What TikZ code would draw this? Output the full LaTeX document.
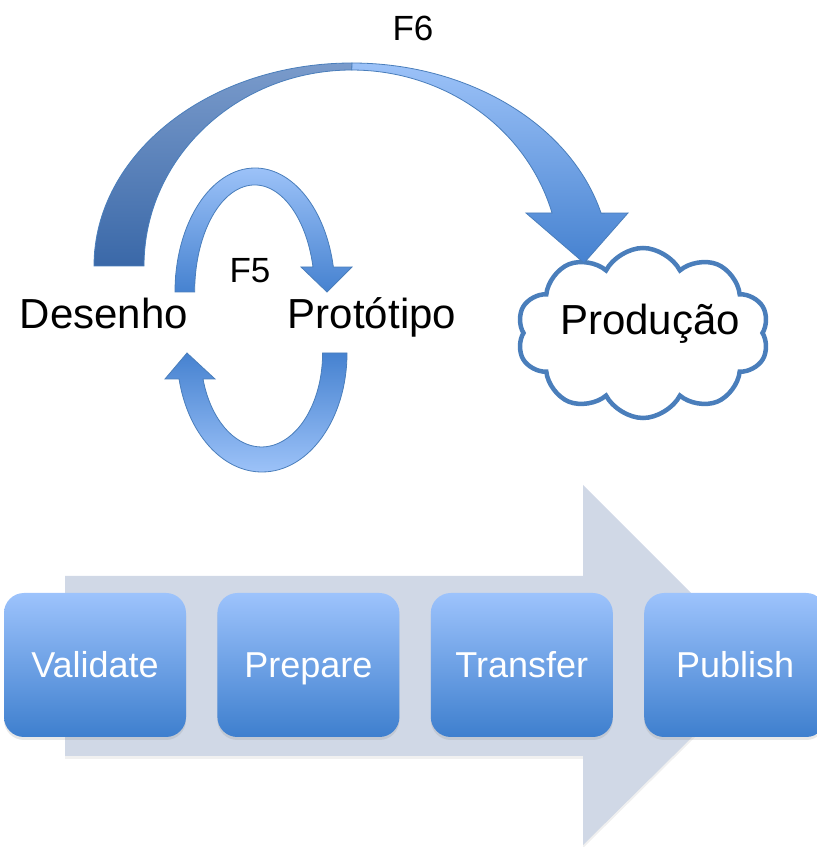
\documentclass[tikz,border=0pt]{standalone}
\usepackage{fontspec}
\setmainfont{Liberation Sans}
\usetikzlibrary{positioning,shapes.symbols,shadows}

\definecolor{bandgray}{HTML}{D0D8E6}
\definecolor{boxtop}{HTML}{9DC3FC}
\definecolor{boxbot}{HTML}{3E7FCE}
\definecolor{arclight}{HTML}{9CC2F8}
\definecolor{arcmid}{HTML}{4682D0}
\definecolor{arcdarktop}{HTML}{7A9BCB}
\definecolor{arcdarkbot}{HTML}{3A68A8}
\definecolor{edgeblue}{HTML}{4A7EBB}

\begin{document}
\begin{tikzpicture}[x=1pt,y=1pt,
  stepbox/.style={rectangle,rounded corners=20pt,top color=boxtop,bottom color=boxbot,minimum width=182pt,minimum height=144pt,text=white,text height=26pt,text depth=0pt,font=\fontsize{36}{40}\selectfont,drop shadow={shadow xshift=0pt,shadow yshift=-3pt,opacity=.18}},
  blockarrow/.style={draw=edgeblue,line width=0.8pt,line join=miter},
  lab/.style={font=\fontsize{42}{48}\selectfont,anchor=base,inner sep=0pt},
  flab/.style={font=\fontsize{35}{40}\selectfont,anchor=base,inner sep=0pt},
  cloudnode/.style={cloud,cloud puffs=10,cloud puff arc=125,aspect=1.46,draw=edgeblue,line width=4.5pt,fill=white,minimum width=252pt,minimum height=170pt},
]

\useasboundingbox (0,0) rectangle (817,847);
\clip (0,0) rectangle (817,847);

% === PROCESS BAND: wide grey arrow behind the steps ===
\fill[bandgray,drop shadow={shadow xshift=0pt,shadow yshift=-3pt,opacity=.12}]
  (65,91) -- (65,271) -- (583,271) -- (583,362) -- (764,181) -- (583,2) -- (583,91) -- cycle;

\node[stepbox] (validate) at (95,182) {Validate};
\node[stepbox,right=31pt of validate] (prepare)  {Prepare};
\node[stepbox,right=31pt of prepare]  (transfer) {Transfer};
\node[stepbox,right=31pt of transfer] (publish)  {Publish};

% === TOP: design / prototype / production ===
\node[cloudnode] (prod) at (643,514) {};
\node[lab] (prodtxt) at (650,512) {Produção};

\node[lab] (desenho) at (104,518) {Desenho};
\node[lab] (proto)   at (372,518) {Protótipo};

% F6: big arc from Desenho to Producao (dark left half, light right half with head)
\path[blockarrow,top color=arcdarktop,bottom color=arcdarkbot]
  (94,581) arc[start angle=180,end angle=90,x radius=258pt,y radius=203pt]
  -- (352,777) arc[start angle=90,end angle=180,x radius=208pt,y radius=196pt] -- cycle;
\path[blockarrow,top color=arclight,bottom color=arcmid]
  (352,784) arc[start angle=90,end angle=15.1,x radius=258pt,y radius=203pt]
  -- (628,634) -- (584,584) -- (526,634) -- (552,634)
  arc[start angle=15.7,end angle=90,x radius=208pt,y radius=196pt] -- cycle;
\node[flab] (f6) at (413,806) {F6};

% F5: loop Desenho -> Prototipo (upper) and back (lower)
\path[blockarrow,top color=arclight,bottom color=arcmid]
  (175,555) arc[start angle=180,end angle=11.6,x radius=80pt,y radius=124pt]
  -- (352,580) -- (327,555) -- (301,580) -- (313,580)
  arc[start angle=13.5,end angle=180,x radius=60pt,y radius=107pt] -- cycle;
\path[blockarrow,top color=arcmid,bottom color=arclight]
  (347,494) arc[start angle=0,end angle=-167.4,x radius=85pt,y radius=119pt]
  -- (165,468) -- (187,494) -- (215,468) -- (203,468)
  arc[start angle=-163.9,end angle=0,x radius=61pt,y radius=94pt] -- cycle;
\node[flab] (f5) at (250,564) {F5};

\end{tikzpicture}
\end{document}
